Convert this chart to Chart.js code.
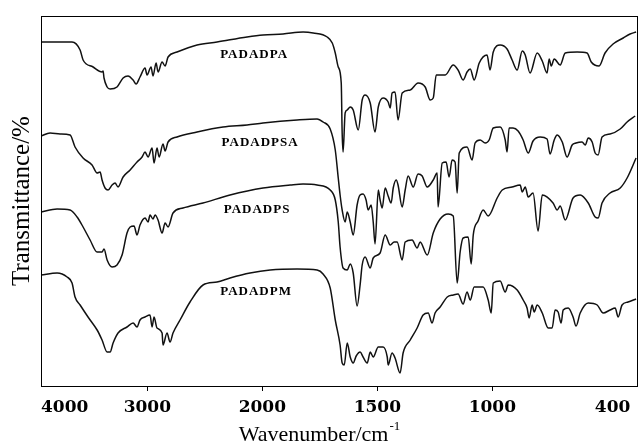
<!DOCTYPE html>
<html><head><meta charset="utf-8">
<script src="https://cdn.jsdelivr.net/npm/chart.js@4.4.1/dist/chart.umd.min.js"></script>
<style>html,body{margin:0;padding:0;background:#fff}#wrap{width:643px;height:447px}</style>
</head><body><div id="wrap"><canvas id="c" width="643" height="447"></canvas></div>
<script>
// ---- Data (wavenumber in cm-1, transmittance in offset plot units) ----
const wnPADADPA = [3924,3655,3585,3559,3472,3394,3385,3377,3350,3324,3264,3211,3168,3124,3098,3064,3020,3003,2968,2951,2924,2907,2872,2846,2820,2742,2568,2394,2133,1997,1910,1823,1779,1718,1696,1683,1670,1657,1653,1649,1640,1631,1618,1605,1583,1566,1553,1531,1510,1496,1475,1453,1444,1436,1423,1410,1392,1357,1323,1292,1270,1257,1244,1205,1170,1149,1127,1110,1096,1079,1057,1023,1010,996,966,936,914,892,870,857,836,805,783,762,753,744,731,705,683,631,588,570,536,510,475,431,401,375];
const tPADADPA = [344,344,336,326,319,314,315,308,299,297,299,308,310,306,302,309,318,311,319,310,323,314,324,320,329,334,341,344,349,351,352,354,353,349,343,333,319,303,253,234,273,276,279,276,256,286,291,283,254,279,288,284,278,293,294,266,293,296,303,299,286,288,311,311,321,316,306,314,317,306,323,331,316,334,341,337,326,316,335,331,313,333,325,313,327,320,327,321,333,334,333,324,320,333,342,348,352,354];

const wnPADADPSA = [3924,3846,3759,3672,3629,3559,3481,3437,3411,3394,3368,3342,3307,3281,3255,3211,3150,3090,3046,3020,2994,2959,2942,2916,2898,2864,2846,2820,2742,2568,2342,2133,1997,1849,1762,1736,1705,1683,1670,1662,1653,1640,1631,1618,1605,1588,1575,1562,1549,1540,1527,1518,1510,1496,1488,1479,1466,1453,1440,1431,1418,1410,1392,1379,1366,1344,1323,1305,1283,1257,1240,1236,1218,1201,1188,1175,1162,1153,1144,1110,1088,1075,1053,1031,1014,996,966,944,936,927,910,888,866,844,823,792,762,749,731,718,696,675,653,636,610,596,583,566,553,540,523,488,444,414,379];
const tPADADPSA = [250,253,252,251,239,228,221,213,214,206,198,196,201,203,199,209,216,224,229,234,229,238,223,238,229,242,235,244,249,254,259,261,263,266,267,264,257,236,208,191,176,164,174,164,151,181,191,192,186,176,181,164,142,196,186,178,198,190,183,198,206,201,179,196,210,199,212,210,199,206,213,179,223,224,209,226,224,193,233,239,226,243,246,243,246,258,259,246,234,258,258,255,246,233,245,249,247,232,246,251,244,229,241,243,244,241,248,244,233,231,249,252,257,264,270];

const wnPADADPS = [3924,3785,3672,3611,3559,3498,3437,3394,3377,3350,3307,3264,3220,3177,3150,3116,3090,3064,3020,2994,2977,2951,2933,2907,2872,2846,2820,2777,2690,2516,2281,1997,1879,1823,1762,1705,1683,1670,1662,1649,1631,1618,1605,1588,1575,1566,1553,1531,1518,1488,1466,1444,1427,1414,1392,1379,1349,1327,1314,1283,1257,1227,1192,1170,1153,1140,1127,1105,1092,1083,1062,1040,1018,979,957,914,879,870,857,844,823,801,783,736,718,705,683,649,618,583,553,540,523,488,444,414,375];
const tPADADPS = [174,177,176,169,159,146,134,134,137,126,119,121,131,153,159,160,151,161,168,164,171,167,171,166,153,163,159,173,178,183,191,198,201,202,201,196,186,164,139,118,116,122,113,80,101,121,129,118,128,133,151,141,144,144,126,144,146,138,144,131,153,167,172,170,103,134,148,149,122,151,165,176,170,188,196,199,201,194,199,189,193,155,191,183,176,180,166,188,191,183,169,168,183,193,198,208,228];

const wnPADADPM = [3924,3785,3698,3655,3629,3585,3516,3437,3394,3350,3324,3298,3255,3177,3124,3090,3064,3020,2977,2959,2942,2916,2872,2864,2829,2803,2777,2716,2629,2516,2394,2281,2107,1966,1849,1762,1736,1705,1683,1662,1653,1644,1631,1618,1605,1592,1575,1562,1544,1531,1518,1496,1475,1457,1453,1436,1423,1401,1388,1357,1327,1301,1279,1262,1249,1227,1196,1170,1149,1127,1110,1096,1079,1040,1018,1005,996,966,944,931,892,866,849,840,827,818,805,783,757,740,727,714,701,692,670,649,636,618,583,544,518,488,466,453,436,410,375];
const tPADADPM = [111,113,109,103,89,81,69,56,46,34,34,43,53,59,63,59,66,69,71,59,69,58,53,41,53,44,53,66,84,101,104,108,113,116,117,116,112,98,66,41,23,21,43,29,23,30,34,29,23,34,29,39,39,29,21,33,28,13,33,46,58,71,73,63,73,79,89,91,92,82,94,86,99,99,86,73,103,105,94,101,96,86,78,68,81,74,81,73,58,58,76,74,63,76,78,69,60,73,83,81,73,76,78,69,81,84,87];

const seriesNames = ['PADADPA','PADADPSA','PADADPS','PADADPM'];
const labelWavenumbers = [2072,2020,2046,2055];
const labelLevels = [331,243,176,94];

const tickWavenumbers = [4000,3000,2000,1500,1000,400];
const tickLabels = ['4000','3000','2000','1500','1000','400'];
const xStart = 3925, xEnd = 371;
const xTitleMain = 'Wavenumber/cm', xTitleSup = '-1';
const yTitle = 'Transmittance/%';

// instrument x scale: below 2000 cm-1 the abscissa is expanded 2x
function toAxis(w){ return w >= 2000 ? 4000 - w : 2000 + 2 * (2000 - w); }

const seriesWn = [wnPADADPA, wnPADADPSA, wnPADADPS, wnPADADPM];
const seriesT = [tPADADPA, tPADADPSA, tPADADPS, tPADADPM];

const datasets = seriesNames.map((name, k) => ({
  label: name,
  data: seriesWn[k].map((w, i) => ({x: toAxis(w), y: seriesT[k][i]})),
  borderColor: '#111',
  borderWidth: 1.5,
  pointRadius: 0,
  fill: false,
  cubicInterpolationMode: 'monotone'
}));

const framePlugin = {
  id: 'frame',
  afterDraw(chart){
    const a = chart.chartArea, ctx = chart.ctx;
    ctx.save();
    ctx.strokeStyle = '#000';
    ctx.lineWidth = 1;
    ctx.strokeRect(Math.round(a.left) + 0.5, Math.round(a.top) + 0.5, Math.round(a.right - a.left), Math.round(a.bottom - a.top));
    // x-axis title with superscript
    ctx.fillStyle = '#000';
    ctx.textBaseline = 'alphabetic';
    ctx.font = '22px "Liberation Serif"';
    const mainW = ctx.measureText(xTitleMain).width;
    ctx.font = '13px "Liberation Serif"';
    const supW = ctx.measureText(xTitleSup).width;
    const cx = (a.left + a.right) / 2 - 20;
    const x0 = cx - (mainW + supW) / 2;
    const base = 441;
    ctx.font = '22px "Liberation Serif"';
    ctx.textAlign = 'left';
    ctx.fillText(xTitleMain, x0, base);
    ctx.font = '13px "Liberation Serif"';
    ctx.fillText(xTitleSup, x0 + mainW + 1, base - 11);
    ctx.restore();
  }
};

const labelPlugin = {
  id: 'seriesLabels',
  afterDatasetsDraw(chart){
    const ctx = chart.ctx, x = chart.scales.x, y = chart.scales.y;
    ctx.save();
    ctx.font = 'bold 13px "Liberation Serif"';
    ctx.fillStyle = '#000';
    ctx.textAlign = 'center';
    ctx.textBaseline = 'middle';
    if ('letterSpacing' in ctx) ctx.letterSpacing = '1px';
    seriesNames.forEach((n, i) => {
      ctx.fillText(n, x.getPixelForValue(toAxis(labelWavenumbers[i])), y.getPixelForValue(labelLevels[i]));
    });
    ctx.restore();
  }
};

new Chart(document.getElementById('c'), {
  type: 'line',
  data: { datasets },
  options: {
    responsive: false,
    animation: false,
    devicePixelRatio: 1,
    layout: { padding: { top: 16, right: 6, left: 0, bottom: 0 } },
    plugins: { legend: { display: false }, tooltip: { enabled: false } },
    scales: {
      x: {
        type: 'linear',
        min: toAxis(xStart),
        max: toAxis(xEnd),
        afterBuildTicks: s => {
          s.ticks = tickWavenumbers.map(w => ({ value: Math.min(Math.max(toAxis(w), s.min), s.max) }));
        },
        ticks: {
          autoSkip: false, maxRotation: 0, minRotation: 0, align: 'inner', padding: 6,
          color: '#000',
          font: { family: 'DejaVu Serif', weight: 'bold', size: 17 },
          callback: (v, i) => tickLabels[i]
        },
        grid: {
          display: true, drawOnChartArea: false, drawTicks: true, tickLength: 5,
          color: c => (c.index === 0 || c.index === tickWavenumbers.length - 1) ? 'rgba(0,0,0,0)' : '#000',
          lineWidth: 1
        },
        border: { display: false },
        title: { display: false },
        afterFit: s => { s.height = 61; }
      },
      y: {
        min: 0, max: 370,
        ticks: { display: false },
        grid: { display: false },
        border: { display: false },
        title: { display: true, text: yTitle, color: '#000',
          font: { family: 'Liberation Serif', size: 25 }, padding: { top: 7, bottom: 0 } },
        afterFit: s => { s.width = 41; }
      }
    }
  },
  plugins: [framePlugin, labelPlugin]
});
</script>
</body></html>
